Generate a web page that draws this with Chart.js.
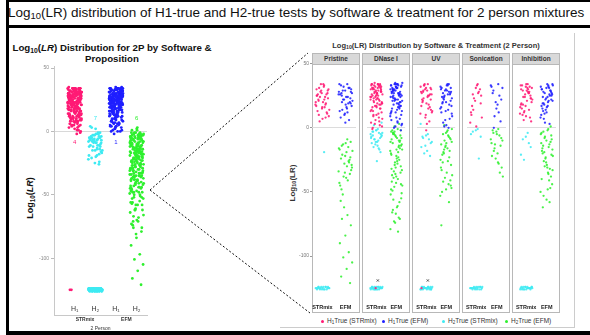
<!DOCTYPE html>
<html>
<head>
<meta charset="utf-8">
<script src="https://cdn.jsdelivr.net/npm/chart.js@4.4.1/dist/chart.umd.min.js"></script>
<style>
  html, body { margin: 0; padding: 0; background: #fff; }
  #page { position: relative; width: 590px; height: 335px; overflow: hidden; font-family: "Liberation Sans", Arial, sans-serif; color: #111; }
  .abs { position: absolute; white-space: nowrap; }
  .sub { font-size: 70%; vertical-align: -0.25em; line-height: 0; }
  canvas { position: absolute; }
  .panel { position: absolute; box-sizing: border-box; border: 1px solid #b8b8b8; background: #fff; }
  .strip { height: 10px; line-height: 10px; background: #d9d9d9; border-bottom: 1px solid #b8b8b8; text-align: center; font-size: 6.5px; font-weight: bold; color: #333; }
  .rot { transform: translate(-50%, -50%) rotate(-90deg); font-weight: bold; }
  .legItem { position: absolute; top: 317px; font-size: 6.5px; color: #333; }
  .dot { display: inline-block; width: 3px; height: 3px; border-radius: 50%; margin-right: 3px; vertical-align: middle; }
  .black { position: absolute; background: #000; }
</style>
</head>
<body>
<div id="page">
  <!-- titles -->
  <div class="abs" style="left:8px; top:5px; font-size:13.5px;">Log<span class="sub">10</span>(LR) distribution of H1-true and H2-true tests by software &amp; treatment for 2 person mixtures</div>
  <div class="abs" style="left:8px; top:42px; width:208px; text-align:center; font-size:9.7px; font-weight:bold; line-height:11px; white-space:normal;">Log<span class="sub">10</span>(<i>LR</i>) Distribution for 2P by Software &amp;<br>Proposition</div>
  <div class="abs rot" style="left:30px; top:198px; font-size:9px;">Log<span class="sub">10</span>(<i>LR</i>)</div>
  <div class="abs" style="left:436px; top:45px; transform:translate(-50%,-50%); font-size:7.5px; font-weight:bold; color:#333;">Log<span class="sub">10</span>(LR) Distribution by Software &amp; Treatment (2 Person)</div>
  <div class="abs rot" style="left:292px; top:183px; font-size:8px; color:#333;">Log<span class="sub">10</span>(LR)</div>

  <canvas id="leftChart" width="148" height="303" style="left:10px; top:30px;"></canvas>
  <div id="facets"></div>

  <!-- legend of the treatment panels -->
  <div class="legItem" style="left:321px;"><span class="dot" style="background:#ff1a75"></span>H<span class="sub">1</span>True (STRmix)</div>
  <div class="legItem" style="left:382px;"><span class="dot" style="background:#1f1fff"></span>H<span class="sub">1</span>True (EFM)</div>
  <div class="legItem" style="left:442px;"><span class="dot" style="background:#3eeaf2"></span>H<span class="sub">2</span>True (STRmix)</div>
  <div class="legItem" style="left:505px;"><span class="dot" style="background:#2ef02e"></span>H<span class="sub">2</span>True (EFM)</div>

  <!-- frame of the right figure -->
  <div class="abs" style="left:574px; top:33px; width:1px; height:295px; background:#ccc;"></div>
  <div class="abs" style="left:280px; top:327px; width:295px; height:1px; background:#ccc;"></div>

  <!-- zoom lines -->
  <svg class="abs" width="590" height="335" style="left:0; top:0;">
    <line x1="150" y1="190" x2="308" y2="53" stroke="#111" stroke-width="1" stroke-dasharray="2,2"/>
    <line x1="150" y1="190" x2="310" y2="313" stroke="#111" stroke-width="1" stroke-dasharray="2,2"/>
  </svg>

  <!-- slide borders -->
  <div class="black" style="left:6px; top:0; width:584px; height:2px;"></div>
  <div class="black" style="left:6px; top:25px; width:584px; height:3px;"></div>
  <div class="black" style="left:6px; top:0; width:3px; height:335px;"></div>
  <div class="black" style="left:6px; top:331px; width:584px; height:4px;"></div>
</div>

<script>
// --- data: log10(LR) per test ---
const treatments = ['Pristine', 'DNase I', 'UV', 'Sonication', 'Inhibition'];
const softwareNames = ['STRmix', 'EFM'];
const propLabels = ['H\u2081', 'H\u2082', 'H\u2081', 'H\u2082'];
const yTickValues = [50, 0, -50, -100];

// H1-true, STRmix
const pristineH1S = [33,21,27,15,30,18,24,9,34,26,12,29,20,16,31,23,7,25,19,28,14,32,22,11,27,17,24,5,30,20,13,26,34,18,22,10,29,16,25,8];
const dnaseH1S = [34,31,28,25,33,22,30,19,27,16,34,24,13,29,21,32,10,26,18,35,7,23,30,15,28,4,33,20,12,26,31,2,17,24,34,9,29,22,14,32,27,1,19,25,33,6,30,11,23,28,16,34,21,3,26,31,13,18,29,24,8,33,20,27,-1,15,32,22,25,10,30,17,34,5,28,19,23,0,31,-125];
const uvH1S = [34,28,22,31,17,25,33,12,29,20,26,8,32,15,23,30,19,27,5,34,13,24,21,31,10,28,18,33,26,3,22,16,30,11,25,29,14,-2,-125];
const sonicH1S = [34,26,19,31,12,28,23,8,33,17,30,21,4,27,14,25,1,10];
const inhibH1S = [34,29,23,32,18,27,12,31,21,33,8,26,16,30,24,5,34,19,28,13,22,31,10,25,17,33,27,6,20,29,15,32,24,11,28,18,23,9,30,14];

// H1-true, EFM
const pristineH1E = [34,25,19,29,13,31,22,27,16,33,20,10,28,24,14,30,18,26,6,32,21,15,27,23,11,34,19,29,17,24,8,31,22,26,12,20,28,4];
const dnaseH1E = [34,30,26,22,33,18,29,25,14,31,20,35,11,27,23,32,8,28,16,34,21,5,30,24,12,33,19,27,2,31,15,26,34,9,22,29,17,32,6,25,30,13,34,21,28,1,24,33,18,10,31,27,15,23,35,4,29,20,32,12,26,0,33,19,28,7,22,30,16,25,-2,34,13,27,21,3,31,24,17,29];
const uvH1E = [33,27,21,30,16,34,24,11,29,19,26,6,32,14,23,28,2,31,18,25,9,34,20,27,13,30,0,22,17,33,24,7,29,15,26,4,31,20,12,28,1,23];
const sonicH1E = [34,29,22,15,32,25,9,31,18,27,5,20,33,12,0];
const inhibH1E = [33,28,22,31,17,26,11,34,24,19,29,14,32,21,7,27,16,30,25,4,33,20,13,28,23,10,31,18,26,34,15,29,22,8,32,19,25,12,30,3,27,21,17,24];

// H2-true, STRmix (the band near -125 is the floor value)
const pristineH2S = [-19,-124,-125,-126,-125,-124,-126,-125,-124,-125,-126,-124,-125,-126,-125,-124,-125,-126,-124,-125,-125,-126,-124];
const dnaseH2S = [-1,-3,-5,-2,-7,-4,-9,-6,-11,-3,-8,-13,-5,-10,-15,-7,-2,-12,-17,-9,-4,-14,-6,-19,-11,-8,-16,2,4,-26,-124,-125,-126,-125,-124,-126,-125,-124,-125,-126,-124,-125,-126,-125,-124,-125,-126,-124,-125,-125,-126,-124,-125,-126,-124];
const uvH2S = [-5,-8,-12,-6,-15,-9,-20,-11,-18,-7,-22,-14,3,-124,-125,-126,-125,-124,-126,-125,-124,-125,-126,-124,-125,-126,-125,-124,-125,-126,-124,-125,-125,-126,-124,-125,-126];
const sonicH2S = [-1,-3,-7,-2,-5,-24,-124,-125,-126,-125,-124,-126,-125,-124,-125,-126,-124,-125,-126,-125,-124,-125,-126,-124,-125,-125];
const inhibH2S = [-4,-9,-15,-7,-21,-12,-25,-124,-125,-126,-125,-124,-126,-125,-124,-125,-126,-124,-125,-126,-125,-124,-125,-126,-124,-125,-125,-126,-124];

// H2-true, EFM
const pristineH2E = [-9,-14,-11,-22,-17,-26,-13,-31,-19,-24,-36,-28,-16,-41,-21,-33,-12,-45,-27,-38,-18,-30,-48,-23,-35,-43,-15,-52,-29,-39,-57,-25,-62,-34,-68,-71,-76,-84,-90,-97,-101,-105,-110,-116,-121];
const dnaseH2E = [-1,-4,-2,-7,-3,-10,-5,-13,-8,-2,-16,-6,-11,-19,-4,-14,-22,-9,-25,-3,-17,-28,-12,-6,-31,-20,-15,-34,-8,-24,-37,-11,-27,-18,-40,-5,-30,-43,-21,-14,-46,-33,-26,-49,-10,-36,-52,-23,-39,-55,-17,-42,-58,-29,-45,-61,-64,-35,-67,-48,-70,-73,-51,-62,-66,-71,-74,-79,-81,-56,-44,-38,-32,3,1];
const uvH2E = [-2,-5,-9,-4,-13,-7,-17,-11,-3,-21,-8,-15,-25,-6,-19,-29,-12,-33,-23,-10,-37,-16,-27,-41,-14,-31,-44,-20,-47,-35,-50,-18,-39,-53,-26,-42,-45,-48,-76,-58,2,-1];
const sonicH2E = [-1,-4,-8,-3,-12,-6,-16,-10,-20,-2,-14,-24,-9,-28,-18,-31,-5,-22,-35,-13,-38,-27];
const inhibH2E = [-1,-3,-6,-10,-4,-13,-8,-17,-2,-20,-11,-23,-5,-15,-26,-9,-29,-18,-32,-7,-22,-35,-14,-38,-27,-12,-41,-19,-44,-31,-16,-47,-24,-50,-36,-53,-21,-56,-40,-58,-30,-33,-48,-62,1];

// flagged results just above the STRmix floor
const flaggedH2S = [[], [-119], [-119], [], []];

// counts of misleading results printed on the summary plot
const countLabels = ['4', '7', '1', '6'];
const countValues = [-9, 10, -9, 10];

// --- styling ---
const PINK = '#ff1a75', CYAN = '#3eeaf2', BLUE = '#1f1fff', GREEN = '#2ef02e';
const seriesColors = [PINK, CYAN, BLUE, GREEN];
const FONT = '"Liberation Sans", Arial, sans-serif';
Chart.defaults.font.family = FONT;

const byTreatment = {
  h1s: [pristineH1S, dnaseH1S, uvH1S, sonicH1S, inhibH1S],
  h1e: [pristineH1E, dnaseH1E, uvH1E, sonicH1E, inhibH1E],
  h2s: [pristineH2S, dnaseH2S, uvH2S, sonicH2S, inhibH2S],
  h2e: [pristineH2E, dnaseH2E, uvH2E, sonicH2E, inhibH2E]
};

// spread the points of one column sideways (deterministic jitter)
function jitterPoints(values, center, spread) {
  return values.map((v, i) => ({ x: center + (((i + 1) * 0.6180339887) % 1 - 0.5) * spread, y: v }));
}

function fixedTicks(values) {
  return function (scale) { scale.ticks = values.map(v => ({ value: v })); };
}

// --- left summary chart (all treatments together) ---
const columns = [byTreatment.h1s.flat(), byTreatment.h2s.flat(), byTreatment.h1e.flat(), byTreatment.h2e.flat()];

const countLabelPlugin = {
  id: 'countLabels',
  afterDatasetsDraw(chart) {
    const { ctx, scales: { x, y } } = chart;
    ctx.save();
    ctx.font = '6px ' + FONT;
    ctx.textAlign = 'center';
    ctx.textBaseline = 'middle';
    countLabels.forEach((t, i) => {
      ctx.fillStyle = seriesColors[i];
      ctx.fillText(t, x.getPixelForValue(i + 1), y.getPixelForValue(countValues[i]));
    });
    ctx.restore();
  }
};

const axisLinePlugin = {
  id: 'axisLine',
  afterDraw(chart) {
    const { ctx, chartArea, scales } = chart;
    ctx.save();
    ctx.strokeStyle = '#c8c8c8';
    ctx.lineWidth = 1;
    ctx.beginPath();
    ctx.moveTo(chartArea.left + 0.5, chartArea.bottom);
    ctx.lineTo(chartArea.left + 0.5, scales.x2.top);
    ctx.stroke();
    ctx.restore();
  }
};

new Chart(document.getElementById('leftChart'), {
  type: 'scatter',
  data: {
    datasets: columns.map((vals, i) => ({
      data: jitterPoints(vals, i + 1, 0.68),
      backgroundColor: seriesColors[i],
      pointRadius: 1.4,
      pointBorderWidth: 0
    }))
  },
  options: {
    responsive: false,
    animation: false,
    devicePixelRatio: 1,
    layout: { padding: { top: 36, right: 11, left: 0, bottom: 1 } },
    plugins: { legend: { display: false }, tooltip: { enabled: false } },
    scales: {
      x: {
        type: 'linear', min: 0, max: 4.5, weight: 0,
        afterBuildTicks: fixedTicks([1, 2, 3, 4]),
        afterFit: s => { s.height = 13; },
        ticks: { callback: (v, k) => propLabels[k], font: { size: 7 }, color: '#333', padding: 3, maxRotation: 0, autoSkip: false },
        grid: { display: false, drawTicks: false },
        border: { display: false }
      },
      x2: {
        type: 'linear', position: 'bottom', min: 0, max: 4.5, weight: 1,
        afterBuildTicks: fixedTicks([1.5, 3.5]),
        afterFit: s => { s.height = 17; },
        ticks: { callback: (v, k) => softwareNames[k], font: { size: 5, weight: 'bold' }, color: '#333', padding: 2, maxRotation: 0, autoSkip: false },
        grid: { display: false, drawTicks: false },
        border: { display: true, color: '#c8c8c8' },
        title: { display: true, text: '2 Person', font: { size: 5 }, color: '#333', padding: 0 }
      },
      y: {
        min: -134.6, max: 51.6,
        afterBuildTicks: fixedTicks(yTickValues),
        afterFit: s => { s.width = 44; },
        ticks: { font: { size: 5 }, color: '#888', padding: 2 },
        grid: { color: c => (c.tick && c.tick.value === 0 ? '#d8d8d8' : 'rgba(0,0,0,0)'), tickLength: 3, tickColor: '#bbb' },
        border: { color: '#c8c8c8' }
      }
    }
  },
  plugins: [countLabelPlugin, axisLinePlugin]
});

// --- right: one small chart per treatment ---
const panelLeft = [312, 362, 412, 462, 512];
const panelWidth = 48;
const facetHost = document.getElementById('facets');

treatments.forEach((name, i) => {
  const frame = document.createElement('div');
  frame.className = 'panel';
  frame.style.left = panelLeft[i] + 'px';
  frame.style.top = '53px';
  frame.style.width = panelWidth + 'px';
  frame.style.height = '260px';
  frame.innerHTML = '<div class="strip">' + name + '</div>';
  facetHost.appendChild(frame);

  const axisW = i === 0 ? 22 : 0;
  const cv = document.createElement('canvas');
  cv.width = panelWidth + axisW;
  cv.height = 260;
  cv.style.left = (panelLeft[i] - axisW) + 'px';
  cv.style.top = '53px';
  facetHost.appendChild(cv);

  const cols = [
    { vals: byTreatment.h1s[i], c: 1, color: PINK },
    { vals: byTreatment.h1e[i], c: 2, color: BLUE },
    { vals: byTreatment.h2s[i], c: 1, color: CYAN },
    { vals: byTreatment.h2e[i], c: 2, color: GREEN }
  ];
  const datasets = cols.map(col => ({
    data: jitterPoints(col.vals, col.c, 0.62),
    backgroundColor: col.color + 'dd',
    pointRadius: 1.15,
    pointBorderWidth: 0
  }));
  datasets.push({
    data: jitterPoints(flaggedH2S[i], 1, 0.62),
    pointStyle: 'crossRot',
    pointRadius: 1.6,
    borderColor: '#333',
    pointBorderWidth: 0.8
  });

  new Chart(cv, {
    type: 'scatter',
    data: { datasets },
    options: {
      responsive: false,
      animation: false,
      devicePixelRatio: 1,
      layout: { padding: { top: 10, right: 0, left: 0, bottom: 1 } },
      plugins: { legend: { display: false }, tooltip: { enabled: false } },
      scales: {
        x: {
          type: 'linear', min: 0.55, max: 2.45,
          afterBuildTicks: fixedTicks([1, 2]),
          afterFit: s => { s.height = 11; },
          ticks: { callback: (v, k) => softwareNames[k], font: { size: 5.5, weight: 'bold' }, color: '#222', padding: 3, maxRotation: 0, autoSkip: false },
          grid: { display: false, drawTicks: false },
          border: { display: false }
        },
        y: {
          min: -135, max: 50.5,
          afterBuildTicks: fixedTicks(yTickValues),
          afterFit: s => { s.width = axisW; },
          ticks: { display: i === 0, font: { size: 5 }, color: '#777', padding: 1 },
          grid: { color: c => (c.tick && c.tick.value === 0 ? '#dcdcdc' : 'rgba(0,0,0,0)'), drawTicks: i === 0, tickLength: 2, tickColor: '#999' },
          border: { display: false }
        }
      }
    }
  });
});
</script>
</body>
</html>
